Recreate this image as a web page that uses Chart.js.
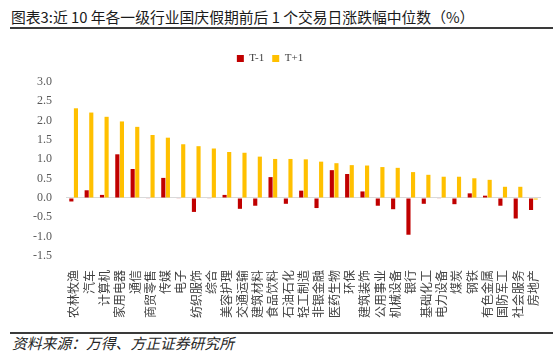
<!DOCTYPE html>
<html>
<head>
<meta charset="utf-8">
<script src="https://cdn.jsdelivr.net/npm/chart.js@4"></script>
<style>
  html, body { margin: 0; padding: 0; background: #fff; }
  #page { position: relative; width: 559px; height: 351px; overflow: hidden; }
  #title {
    position: absolute; left: 11px; top: 6px;
    font: 14.8px "Noto Sans CJK SC", sans-serif; color: #1a1a1a; white-space: nowrap;
  }
  .rule { position: absolute; left: 10px; width: 543px; height: 2px; background: #3a3a3a; }
  #source {
    position: absolute; left: 12px; top: 332px;
    font: italic 14.8px "Noto Sans CJK SC", sans-serif; color: #262626; white-space: nowrap;
  }
  #box { position: absolute; left: 0; top: 38px; width: 559px; height: 294px; }
</style>
</head>
<body>
<div id="page">
  <div id="title">图表3:近 10 年各一级行业国庆假期前后 1 个交易日涨跌幅中位数（%）</div>
  <div class="rule" style="top:27px"></div>
  <div id="box"><canvas id="chart"></canvas></div>
  <div class="rule" style="top:332px"></div>
  <div id="source">资料来源：万得、方正证券研究所</div>
</div>
<script>
// 行业分类
const industries = [
  "农林牧渔", "汽车", "计算机", "家用电器", "通信", "商贸零售", "传媒", "电子",
  "纺织服饰", "综合", "美容护理", "交通运输", "建筑材料", "食品饮料", "石油石化",
  "轻工制造", "非银金融", "医药生物", "环保", "建筑装饰", "公用事业", "机械设备",
  "银行", "基础化工", "电力设备", "煤炭", "钢铁", "有色金属", "国防军工", "社会服务", "房地产"
];

// 节前 1 个交易日 (T-1)
const tMinus1 = [
  -0.09, 0.20, 0.08, 1.13, 0.75, -0.01, 0.52, -0.01, -0.36, -0.01, 0.08,
  -0.28, -0.20, 0.54, -0.15, 0.19, -0.26, 0.72, 0.62, 0.17, -0.20,
  -0.29, -0.95, -0.15, -0.01, -0.16, 0.12, 0.06, -0.20, -0.53, -0.31
];

// 节后 1 个交易日 (T+1)
const tPlus1 = [
  2.32, 2.21, 2.10, 1.98, 1.84, 1.63, 1.56, 1.39, 1.34, 1.28, 1.19,
  1.17, 1.07, 1.01, 1.01, 1.00, 0.94, 0.90, 0.85, 0.84, 0.80,
  0.78, 0.67, 0.60, 0.55, 0.55, 0.51, 0.47, 0.29, 0.29, -0.04
];

// 纵轴刻度
const yTicks = [-1.5, -1.0, -0.5, 0.0, 0.5, 1.0, 1.5, 2.0, 2.5, 3.0];

const serif = '"Liberation Serif", "Times New Roman", serif';

// 图例下方多留空白，并稍向左移
const legendGap = {
  id: "legendGap",
  beforeInit(chart) {
    const fit = chart.legend.fit;
    chart.legend.fit = function () {
      fit.bind(chart.legend)();
      this.height += 8;
    };
  },
  afterLayout(chart) {
    chart.legend.left -= 10;
    chart.legend.right -= 10;
  }
};

new Chart(document.getElementById("chart"), {
  type: "bar",
  data: {
    labels: industries,
    datasets: [
      { label: "T-1", data: tMinus1, backgroundColor: "#C00000" },
      { label: "T+1", data: tPlus1, backgroundColor: "#FFC000" }
    ]
  },
  plugins: [legendGap],
  options: {
    responsive: true,
    maintainAspectRatio: false,
    animation: false,
    layout: { padding: { left: 19, right: 18, top: 7, bottom: 8 } },
    datasets: { bar: { barPercentage: 0.9, categoryPercentage: 0.6 } },
    plugins: {
      legend: {
        position: "top",
        labels: {
          boxWidth: 7, boxHeight: 7, padding: 8,
          color: "#404040", font: { family: serif, size: 11 }
        }
      },
      tooltip: { enabled: false }
    },
    scales: {
      x: {
        grid: { display: false },
        border: { display: false },
        ticks: {
          autoSkip: false, minRotation: 90, maxRotation: 90, padding: 6,
          color: "#404040", font: { family: '"Noto Sans CJK SC", sans-serif', size: 12 }
        }
      },
      y: {
        min: -1.5, max: 3.0,
        afterBuildTicks: (axis) => { axis.ticks = yTicks.map(v => ({ value: v })); },
        border: { display: false },
        grid: {
          drawTicks: false,
          color: (c) => c.tick && c.tick.value === 0 ? "#D9D9D9" : "rgba(0,0,0,0)"
        },
        ticks: {
          padding: 14, color: "#595959",
          font: { family: serif, size: 12 },
          callback: (v) => Number(v).toFixed(1)
        }
      }
    }
  }
});
</script>
</body>
</html>
